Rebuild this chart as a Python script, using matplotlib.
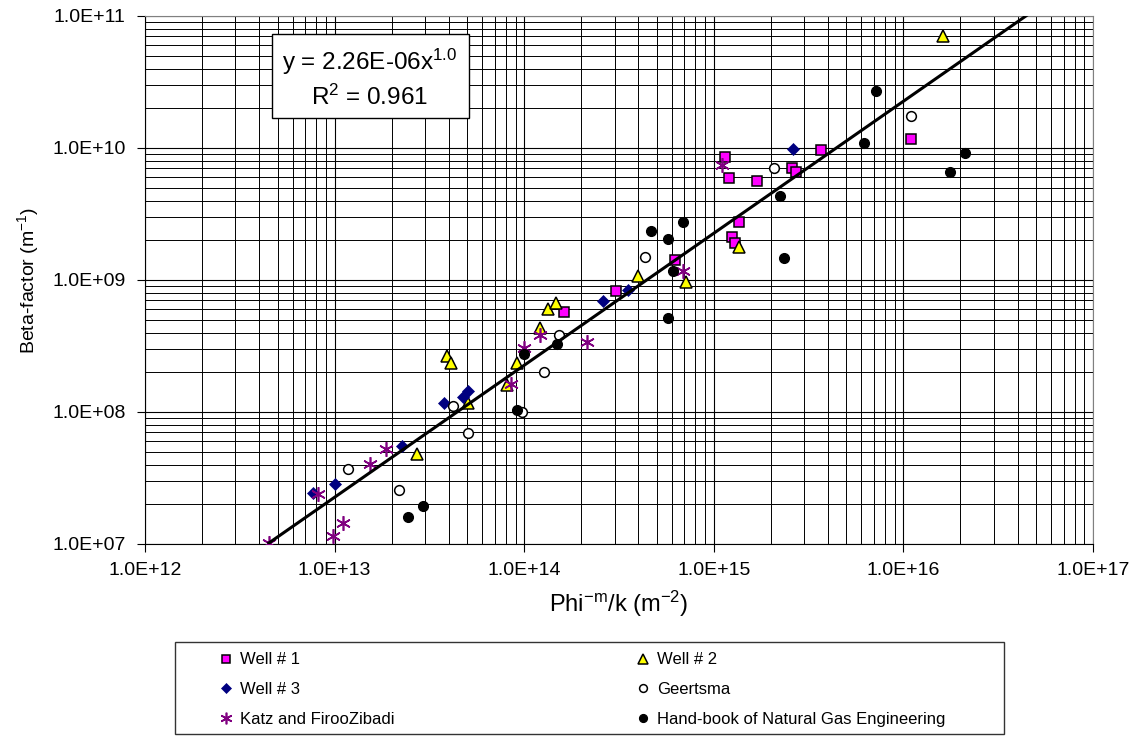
import numpy as np
import matplotlib
matplotlib.use('Agg')
import matplotlib.pyplot as plt
from matplotlib.patches import Rectangle
from matplotlib.ticker import LogLocator, FuncFormatter, NullFormatter

# Data
well1_x = [1.62e14, 3.05e14, 6.24e14, 1.15e15, 1.20e15, 1.69e15, 2.59e15, 2.70e15,
           3.66e15, 1.35e15, 1.25e15, 1.30e15, 1.10e16]
well1_y = [5.69e8, 8.3e8, 1.42e9, 8.55e9, 5.9e9, 5.6e9, 7.1e9, 6.55e9,
           9.66e9, 2.75e9, 2.12e9, 1.90e9, 1.17e10]

well2_x = [2.73e13, 3.93e13, 4.11e13, 5.04e13, 8.15e13, 9.19e13, 1.21e14, 1.34e14,
           1.48e14, 4.0e14, 7.11e14, 1.36e15, 1.61e16]
well2_y = [4.81e7, 2.67e8, 2.36e8, 1.18e8, 1.60e8, 2.34e8, 4.31e8, 6.0e8,
           6.66e8, 1.07e9, 9.7e8, 1.77e9, 7.1e10]

well3_x = [7.72e12, 1.0e13, 2.26e13, 3.78e13, 4.74e13, 5.04e13, 2.61e14, 3.54e14, 2.63e15]
well3_y = [2.45e7, 2.85e7, 5.53e7, 1.18e8, 1.31e8, 1.44e8, 6.93e8, 8.4e8, 9.8e9]

geertsma_x = [1.17e13, 2.19e13, 4.23e13, 5.08e13, 9.77e13, 1.27e14, 1.53e14,
              4.32e14, 2.08e15, 1.10e16]
geertsma_y = [3.68e7, 2.57e7, 1.11e8, 6.9e7, 1.0e8, 2.02e8, 3.83e8,
              1.50e9, 7.1e9, 1.74e10]

katz_x = [4.53e12, 8.17e12, 9.85e12, 1.11e13, 1.54e13, 1.86e13, 8.52e13, 1.0e14,
          1.21e14, 2.14e14, 6.85e14, 1.10e15]
katz_y = [1.02e7, 2.38e7, 1.14e7, 1.43e7, 4.02e7, 5.24e7, 1.63e8, 3.07e8,
          3.83e8, 3.41e8, 1.18e9, 7.44e9]

handbook_x = [2.44e13, 2.94e13, 9.13e13, 9.97e13, 1.49e14, 4.68e14, 5.71e14, 6.9e14,
              6.11e14, 5.71e14, 2.24e15, 2.34e15, 6.22e15, 7.17e15, 1.76e16, 2.11e16]
handbook_y = [1.59e7, 1.95e7, 1.04e8, 2.74e8, 3.26e8, 2.35e9, 2.06e9, 2.75e9,
              1.16e9, 5.13e8, 4.31e9, 1.47e9, 1.085e10, 2.72e10, 6.55e9, 9.2e9]

# Power trendline y = a * x^b
trend_a = 2.26e-6
trend_b = 1.0
trend_x = np.array([4.5e12, 5.0e16])

plt.rcParams['font.family'] = ['Liberation Sans', 'DejaVu Sans']
plt.rcParams['mathtext.fontset'] = 'custom'
plt.rcParams['mathtext.rm'] = 'Liberation Sans'
plt.rcParams['mathtext.it'] = 'Liberation Sans:italic'

W, H = 1145, 736
fig = plt.figure(figsize=(W / 100, H / 100), dpi=100)
ax = fig.add_axes([145 / W, 1 - 544 / H, (1093 - 145) / W, (544 - 16) / H])

# Series
h1, = ax.plot(well1_x, well1_y, 's', ms=7, mfc='#FF00FF', mec='black', mew=1.1,
              ls='none', label='Well # 1', zorder=5)
h2, = ax.plot(well2_x, well2_y, '^', ms=8.5, mfc='#FFFF00', mec='black', mew=1.1,
              ls='none', label='Well # 2', zorder=5)
h3, = ax.plot(well3_x, well3_y, 'D', ms=5.8, mfc='#000080', mec='#000080', mew=0.5,
              ls='none', label='Well # 3', zorder=5)
h4, = ax.plot(geertsma_x, geertsma_y, 'o', ms=7, mfc='white', mec='black', mew=1.1,
              ls='none', label='Geertsma', zorder=5)
h5, = ax.plot(katz_x, katz_y, marker=(6, 2, 0), ms=10.5, mec='#800080', mew=1.2,
              ls='none', label='Katz and FirooZibadi', zorder=5)
h6, = ax.plot(handbook_x, handbook_y, 'o', ms=7, mfc='black', mec='black',
              ls='none', label='Hand-book of Natural Gas Engineering', zorder=5)

ax.plot(trend_x, trend_a * trend_x ** trend_b, color='black', lw=2.2, zorder=6)

# Axes
ax.set_xscale('log')
ax.set_yscale('log')
ax.set_xlim(1e12, 1e17)
ax.set_ylim(1e7, 1e11)

sci = FuncFormatter(lambda v, p: f'{v:.1E}')
for axis in (ax.xaxis, ax.yaxis):
    axis.set_major_locator(LogLocator(base=10, numticks=10))
    axis.set_minor_locator(LogLocator(base=10, subs=np.arange(2, 10), numticks=20))
    axis.set_major_formatter(sci)
    axis.set_minor_formatter(NullFormatter())

ax.tick_params(which='major', direction='out', length=6, width=0.8, labelsize=14,
               color='black')
ax.tick_params(axis='x', which='major', pad=7)
ax.tick_params(axis='y', which='major', pad=8)
ax.tick_params(which='minor', length=0)

ax.grid(True, which='major', color='black', lw=0.8)
ax.grid(True, which='minor', color='black', lw=0.7)
ax.set_axisbelow(True)

for s in ('top', 'right'):
    ax.spines[s].set_color('#808080')
for s in ('left', 'bottom'):
    ax.spines[s].set_color('black')

fig.text(28 / W, 1 - 280 / H, 'Beta-factor (m$^{\\mathrm{-1}}$)', rotation=90,
         ha='center', va='center', fontsize=14)
fig.text(619 / W, 1 - 604 / H, 'Phi$^{\\mathrm{-m}}$/k (m$^{\\mathrm{-2}}$)',
         ha='center', va='center', fontsize=17)

# Equation box
fig.add_artist(Rectangle((272 / W, 1 - 118 / H), (469 - 272) / W, (118 - 34) / H,
                         transform=fig.transFigure, facecolor='white',
                         edgecolor='black', lw=1.0, zorder=3))
fig.text(370 / W, 1 - 62 / H, 'y = 2.26E-06x$^{\\mathrm{1.0}}$', ha='center',
         va='center', fontsize=17.5, zorder=4)
fig.text(370 / W, 1 - 97 / H, 'R$^{\\mathrm{2}}$ = 0.961', ha='center',
         va='center', fontsize=17.5, zorder=4)

# Legend, two columns with a frame around them
fig.add_artist(Rectangle((175 / W, 1 - 734 / H), (1004 - 175) / W, (734 - 642) / H,
                         transform=fig.transFigure, facecolor='white',
                         edgecolor='#333333', lw=1.0, zorder=1))
leg_kw = dict(frameon=False, fontsize=12, borderpad=0, handlelength=0.6,
              handletextpad=0.5, labelspacing=0.89, markerscale=0.8,
              loc='upper left')
fig.legend(handles=[h1, h3, h5], bbox_to_anchor=(213 / W, 1 - 644 / H), **leg_kw)
fig.legend(handles=[h2, h4, h6], bbox_to_anchor=(630 / W, 1 - 644 / H), **leg_kw)

fig.savefig('out.png', dpi=100)
